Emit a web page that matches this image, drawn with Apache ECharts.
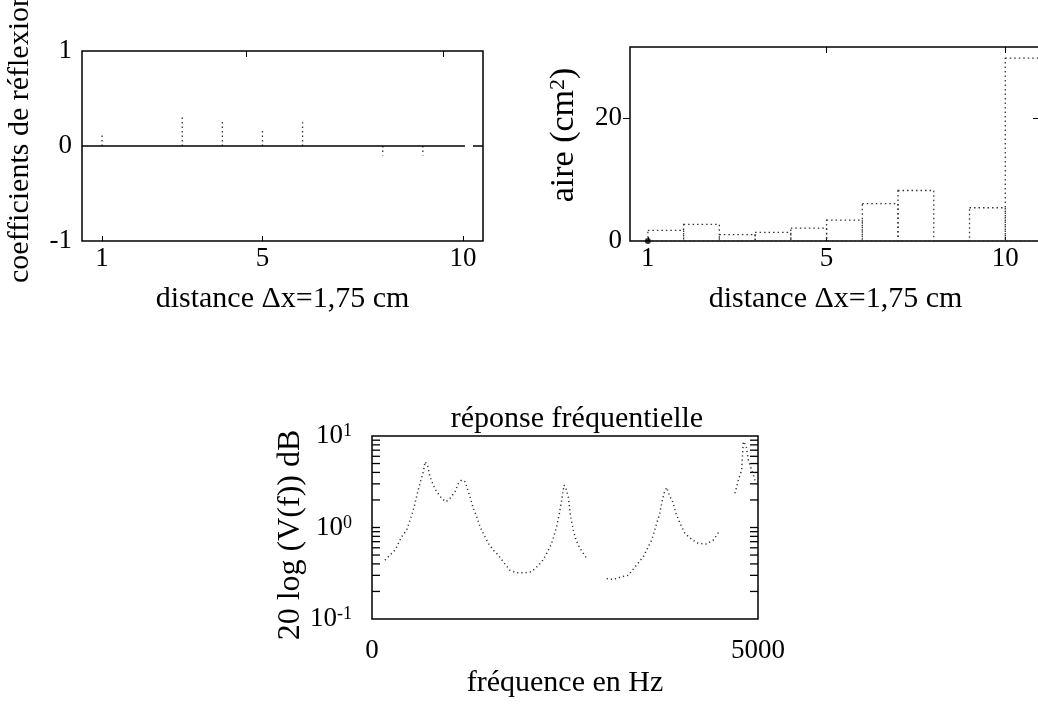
<!DOCTYPE html>
<html>
<head>
<meta charset="utf-8">
<script src="https://cdn.jsdelivr.net/npm/echarts@6/dist/echarts.min.js"></script>
<style>
html,body{margin:0;padding:0;background:#fff;}
#chart{width:1038px;height:705px;}
</style>
</head>
<body>
<div id="chart"></div>
<script>
// coefficients de reflexion (haut gauche)
var reflX = [1, 2, 3, 4, 5, 6, 7, 8, 9, 10];
var reflVal = [0.12, 0, 0.33, 0.27, 0.19, 0.25, 0, -0.1, -0.1, 0];
var reflTicks = [1, 5, 10];
var reflTopTicks = [4.6, 9.5];
var reflYTicks = [-1, 0, 1];

// aire par section (haut droite), une valeur par tronçon
var areaVal = [1.73, 2.7, 1.03, 1.4, 2.1, 3.4, 6.07, 8.2, 0, 5.4, 29.7];
var areaTickPos = [0, 5, 10];
var areaTickText = ['1', '5', '10'];
var areaYTicks = [0, 20];

// reponse frequentielle (bas), null = trou dans la courbe
var freqHz = [168, 233, 298, 384, 449, 514, 548, 587, 622, 665,
	687, 721, 751, 794, 838, 902, 959, 1010, 1075, 1118,
	1161, 1205, 1269, 1313, 1356, 1399, 1442, 1507, 1572, 1636,
	1701, 1788, 1874, 1982, 2068, 2133, 2198, 2263, 2327, 2392,
	2427, 2457, 2487, 2513, 2543, 2573, 2608, 2642, 2694, 2781,
	2900,
	3040, 3126, 3234, 3320, 3428, 3515, 3623, 3687, 3722, 3752,
	3782, 3817, 3851, 3895, 3938, 3990, 4054, 4141, 4227, 4335,
	4421, 4508,
	4600,
	4702, 4745, 4788, 4810, 4845, 4875, 4918, 4961, 5000];
var freqResp = [0.44, 0.50, 0.565, 0.79, 0.935, 1.36, 1.71, 2.36, 3.03, 4.07,
	5.24, 4.69, 3.59, 2.91, 2.46, 2.08, 1.91, 2.08, 2.46, 3.03,
	3.30, 3.16, 2.17, 1.61, 1.31, 1.02, 0.86, 0.67, 0.565, 0.50,
	0.42, 0.34, 0.32, 0.32, 0.33, 0.37, 0.42, 0.52, 0.67, 1.02,
	1.42, 1.99, 2.91, 2.67, 2.17, 1.31, 0.935, 0.73, 0.59, 0.46,
	null,
	0.277, 0.27, 0.29, 0.30, 0.39, 0.48, 0.73, 1.11, 1.36, 1.83,
	2.36, 2.74, 2.26, 1.91, 1.42, 1.11, 0.86, 0.74, 0.67, 0.66,
	0.73, 0.935,
	null,
	2.36, 3.30, 4.24, 8.67, 7.96, 5.46, 4.24, 3.30, 2.79];
var freqTicks = [0, 5000];
var logMinor = [0.2, 0.3, 0.4, 0.5, 0.6, 0.7, 0.8, 0.9, 1, 2, 3, 4, 5, 6, 7, 8, 9];

(function(){
	'use strict';
	var FONT = 'Liberation Serif';
	var INK = '#000';
	var DOTS = '#333';
	var dotted = [1.5, 3];

	var chart = echarts.init(document.getElementById('chart'));

	function extend(a, b){
		var out = {}, k;
		for (k in b) out[k] = b[k];
		for (k in a) out[k] = a[k];
		return out;
	}

	function supStyle(size){
		return {sup: {fontSize: size, fontFamily: FONT, color: INK, verticalAlign: 'top', padding: [0, 0, 8, 0]}};
	}

	function stemItem(params, api){
		var p0 = api.coord([api.value(0), 0]);
		var p1 = api.coord([api.value(0), api.value(1)]);
		return {
			type: 'line',
			shape: {x1: p0[0], y1: p0[1], x2: p1[0], y2: p1[1]},
			style: {stroke: DOTS, lineWidth: 1.3, lineDash: dotted}
		};
	}

	function sectionItem(params, api){
		var i = api.value(0);
		var a = api.coord([i, 0]);
		var b = api.coord([i + 1, api.value(1)]);
		return {
			type: 'rect',
			shape: {x: a[0], y: b[1], width: b[0] - a[0], height: a[1] - b[1]},
			style: {fill: 'none', stroke: DOTS, lineWidth: 1.3, lineDash: dotted}
		};
	}

	function minorTickItem(params, api){
		var l = api.coord([0, api.value(1)]);
		var r = api.coord([5000, api.value(1)]);
		return {
			type: 'group',
			children: [
				{type: 'line', shape: {x1: l[0], y1: l[1], x2: l[0] + 8, y2: l[1]}, style: {stroke: INK, lineWidth: 1.3}},
				{type: 'line', shape: {x1: r[0], y1: r[1], x2: r[0] - 8, y2: r[1]}, style: {stroke: INK, lineWidth: 1.3}}
			]
		};
	}

	var labelBase = {color: INK, fontFamily: FONT, fontSize: 27};
	var nameBase = {color: INK, fontFamily: FONT, fontSize: 30};
	var gridBase = {show: true, borderColor: INK, borderWidth: 1.5, outerBoundsMode: 'none', containLabel: false};
	var noLine = {show: false, onZero: false};

	var reflData = reflX.map(function(x, i){ return [x, reflVal[i]]; });
	var areaData = areaVal.map(function(v, i){ return [i, v]; });
	var freqData = freqHz.map(function(f, i){
		return [f, freqResp[i] === null ? '-' : freqResp[i]];
	});

	var option = {
		backgroundColor: '#fff',
		animation: false,
		textStyle: {fontFamily: FONT, color: INK},
		title: {
			text: 'réponse fréquentielle',
			left: 572, top: 399, textAlign: 'center',
			textStyle: {fontFamily: FONT, fontSize: 30, fontWeight: 'normal', color: INK}
		},
		grid: [
			extend({left: 82, top: 51, right: 555, bottom: 464}, gridBase),
			extend({left: 630, top: 47, right: -3, bottom: 464}, gridBase),
			extend({left: 372, top: 436, right: 280, bottom: 86}, gridBase)
		],
		xAxis: [
			{
				gridIndex: 0, type: 'value', min: 0.5, max: 10.5,
				name: 'distance Δx=1,75 cm', nameLocation: 'middle', nameGap: 43, nameTextStyle: nameBase,
				axisLine: noLine, splitLine: {show: false},
				axisTick: {inside: true, length: 5, lineStyle: {color: INK}, customValues: reflTicks},
				axisLabel: extend({margin: 4, customValues: reflTicks}, labelBase)
			},
			{
				gridIndex: 0, type: 'value', position: 'top', min: 0.5, max: 10.5,
				axisLine: noLine, splitLine: {show: false}, axisLabel: {show: false},
				axisTick: {inside: true, length: 6, lineStyle: {color: INK}, customValues: reflTopTicks}
			},
			{
				gridIndex: 1, type: 'value', min: -0.5, max: 11,
				name: 'distance Δx=1,75 cm', nameLocation: 'middle', nameGap: 43, nameTextStyle: nameBase,
				axisLine: noLine, splitLine: {show: false},
				axisTick: {inside: true, length: 4, lineStyle: {color: INK}, customValues: areaTickPos},
				axisLabel: extend({
					margin: 4, customValues: areaTickPos,
					formatter: function(v){ return areaTickText[areaTickPos.indexOf(v)]; }
				}, labelBase)
			},
			{
				gridIndex: 1, type: 'value', position: 'top', min: -0.5, max: 11,
				axisLine: noLine, splitLine: {show: false}, axisLabel: {show: false},
				axisTick: {inside: true, length: 6, lineStyle: {color: INK}, customValues: [5, 10]}
			},
			{
				gridIndex: 2, type: 'value', min: 0, max: 5000,
				name: 'fréquence en Hz', nameLocation: 'middle', nameGap: 49, nameTextStyle: nameBase,
				axisLine: noLine, splitLine: {show: false}, axisTick: {show: false},
				axisLabel: extend({
					margin: 18, customValues: freqTicks,
					formatter: function(v){ return String(v); }
				}, labelBase)
			}
		],
		yAxis: [
			{
				gridIndex: 0, type: 'value', min: -1, max: 1,
				name: 'coefficients de réflexion', nameLocation: 'middle', nameGap: 47,
				nameTextStyle: extend({padding: [0, 0, 0, 17]}, nameBase),
				axisLine: noLine, splitLine: {show: false}, axisTick: {show: false},
				axisLabel: extend({margin: 10, customValues: reflYTicks}, labelBase)
			},
			{
				gridIndex: 1, type: 'value', position: 'left', min: 0, max: 31.5,
				name: 'aire (cm{sup|2})', nameLocation: 'middle', nameGap: 49,
				nameTextStyle: extend({padding: [0, 0, 0, 18], fontSize: 34, rich: supStyle(22)}, nameBase),
				axisLine: noLine, splitLine: {show: false},
				axisTick: {inside: false, length: 7, lineStyle: {color: INK}, customValues: [20]},
				axisLabel: extend({margin: 8, customValues: areaYTicks}, labelBase)
			},
			{
				gridIndex: 1, type: 'value', position: 'right', min: 0, max: 31.5,
				axisLine: noLine, splitLine: {show: false}, axisLabel: {show: false},
				axisTick: {inside: true, length: 8, lineStyle: {color: INK}, customValues: [20]}
			},
			{
				gridIndex: 2, type: 'log', logBase: 10, min: 0.1, max: 10,
				name: '20 log (V(f)) dB', nameLocation: 'middle', nameGap: 62,
				nameTextStyle: extend({padding: [0, 15, 0, 0], fontSize: 32}, nameBase),
				axisLine: noLine, splitLine: {show: false}, axisTick: {show: false},
				axisLabel: extend({
					margin: 20,
					formatter: function(v){ return '10{sup|' + Math.round(Math.log10(v)) + '}'; },
					rich: supStyle(18)
				}, labelBase)
			}
		],
		series: [
			{
				type: 'line', xAxisIndex: 0, yAxisIndex: 0, symbol: 'none',
				data: [[0.5, 0], [10.05, 0], [10.1, '-'], [10.25, 0], [10.5, 0]],
				lineStyle: {color: INK, width: 1.5}
			},
			{
				type: 'custom', xAxisIndex: 0, yAxisIndex: 0, renderItem: stemItem,
				encode: {x: 0, y: 1}, data: reflData
			},
			{
				type: 'custom', xAxisIndex: 2, yAxisIndex: 1, renderItem: sectionItem,
				encode: {x: 0, y: 1}, data: areaData
			},
			{
				type: 'scatter', xAxisIndex: 2, yAxisIndex: 1, clip: false,
				symbolSize: 6, itemStyle: {color: INK}, data: [[0, 0]]
			},
			{
				type: 'line', xAxisIndex: 4, yAxisIndex: 3, symbol: 'none', connectNulls: false,
				data: freqData,
				lineStyle: {color: DOTS, width: 1.5, type: [1.2, 3]}
			},
			{
				type: 'custom', xAxisIndex: 4, yAxisIndex: 3, renderItem: minorTickItem,
				encode: {x: 0, y: 1}, data: logMinor.map(function(v){ return [0, v]; })
			}
		]
	};

	chart.setOption(option);
})();
</script>
</body>
</html>
